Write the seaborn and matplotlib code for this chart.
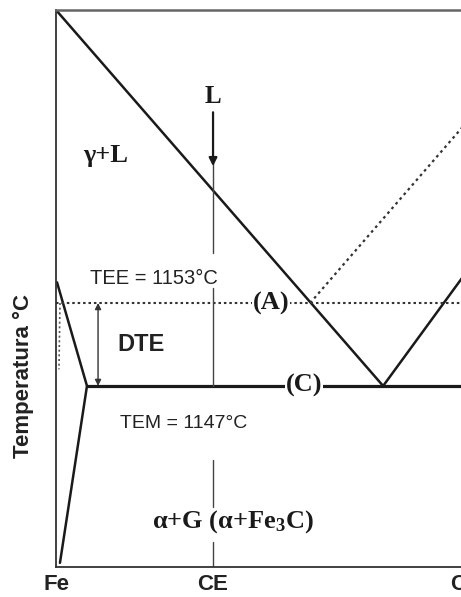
import matplotlib
matplotlib.use("Agg")
import matplotlib.pyplot as plt
import numpy as np
import pandas as pd
import seaborn as sns

# Schematic Fe–C eutectic region (composition axis in arbitrary units, temperature in °C)
TEE = 1153          # stable (graphite) eutectic temperature
TEM = 1147          # metastable (cementite) eutectic temperature
x_ce = 1.744        # eutectic composition CE
x_end = 4.71
t_min, t_max = 1133.9, 1174.2

# Liquidus lines
liq_left_x = [0.0, 3.633]
liq_left_t = [1174.2, TEM]
liq_right_x = [3.633, 4.71]
liq_right_t = [TEM, 1156.6]
liq_stable_x = [2.822, 4.71]
liq_stable_t = [TEE, 1167.2]

# Austenite solidus / solvus
sol_x = [0.011, 0.344, 0.044]
sol_t = [1154.5, TEM, 1134.2]
solvus_x = [0.044, 0.033]
solvus_t = [TEE, 1148.2]

# Visible pieces of the CE composition line (broken around the labels)
ce_top = [1163.1, 1154.1, 1141.65, 1135.7]
ce_bottom = [1156.6, TEM, 1138.25, t_min]

tick_pos = [0.0, x_ce, 4.47]
tick_lab = ["Fe", "CE", "C"]

sns.set_theme(style="white")
plt.rcParams["font.family"] = ["Liberation Sans", "DejaVu Sans"]
plt.rcParams["mathtext.fontset"] = "custom"
plt.rcParams["mathtext.rm"] = "Liberation Serif:bold"
plt.rcParams["mathtext.it"] = "Liberation Serif:bold"
plt.rcParams["mathtext.bf"] = "Liberation Serif:bold"

fig = plt.figure(figsize=(4.61, 5.97), dpi=100)
ax = fig.add_axes([56 / 461, 30 / 597, 0.92, 557 / 597])

ink = "#1a1a1a"

def seg(xs, ts, **kw):
    df = pd.DataFrame({"x": xs, "t": ts})
    sns.lineplot(data=df, x="x", y="t", sort=False, estimator=None, ax=ax, **kw)

seg(liq_left_x, liq_left_t, color=ink, lw=1.8)
seg(liq_right_x, liq_right_t, color=ink, lw=1.8)
seg(liq_stable_x, liq_stable_t, color="#333", lw=1.6, linestyle=(0, (1.2, 1.6)))
seg(sol_x, sol_t, color=ink, lw=1.8)
seg(solvus_x, solvus_t, color="#555", lw=1.2, linestyle=(0, (1.2, 1.6)))

# Eutectic isotherms
seg([0.0, x_end], [TEE, TEE], color="#333", lw=1.5, linestyle=(0, (1.2, 1.4)))
seg([0.344, x_end], [TEM, TEM], color=ink, lw=2.3)

# CE composition line
for t0, t1 in zip(ce_top, ce_bottom):
    seg([x_ce, x_ce], [t0, t1], color="#444", lw=1.0)

# Cooling arrow for the liquid at CE
ax.annotate("", xy=(x_ce, 1162.9), xytext=(x_ce, 1166.8),
            arrowprops=dict(arrowstyle="-|>", color=ink, lw=1.6,
                            mutation_scale=12, shrinkA=0, shrinkB=0))
ax.text(x_ce, 1167.1, "L", ha="center", va="bottom", fontsize=18,
        fontweight="bold", family="Liberation Serif", color=ink)

# DTE interval arrow
ax.annotate("", xy=(0.467, TEM), xytext=(0.467, TEE),
            arrowprops=dict(arrowstyle="<|-|>", color="#333", lw=1.0,
                            mutation_scale=9, shrinkA=0, shrinkB=0))

box = dict(facecolor="white", edgecolor="none", pad=0.5)
serif = "Liberation Serif"
ax.text(0.30, 1163.7, "γ+L", fontsize=19, fontweight="bold", family=serif,
        color=ink, ha="left", va="center")
ax.text(2.39, TEE, "(A)", fontsize=19, fontweight="bold", family=serif,
        color=ink, ha="center", va="center", bbox=box)
ax.text(2.75, TEM, "(C)", fontsize=19, fontweight="bold", family=serif,
        color=ink, ha="center", va="center", bbox=box)
ax.text(1.96, 1137.2, "α+G (α+Fe$_3$C)", fontsize=19, fontweight="bold",
        family=serif, color=ink, ha="center", va="center")

ax.text(0.38, 1154.8, f"TEE = {TEE}°C", fontsize=14.5, color="#222",
        ha="left", va="center")
ax.text(0.68, 1150.0, "DTE", fontsize=17, fontweight="bold", color="#222",
        ha="left", va="center")
ax.text(0.71, 1144.3, f"TEM = {TEM}°C", fontsize=14, color="#222",
        ha="left", va="center")

ax.set_xlim(0, x_end)
ax.set_ylim(t_min, t_max)
ax.set_xticks(tick_pos)
ax.set_xticklabels(tick_lab, fontsize=16, fontweight="bold", color="#222")
ax.set_yticks([])
ax.tick_params(axis="x", length=0, pad=5)
ax.set_xlabel("")
ax.set_ylabel("Temperatura °C", fontsize=16, fontweight="bold", color="#222",
              va="center", ha="center")
ax.yaxis.set_label_coords(-0.077, 0.343)

for side in ["left", "bottom"]:
    ax.spines[side].set_color("#333")
    ax.spines[side].set_linewidth(1.3)
ax.spines["top"].set_color("#666")
ax.spines["top"].set_linewidth(1.8)
ax.spines["right"].set_visible(False)

fig.savefig("out.png", dpi=100)
